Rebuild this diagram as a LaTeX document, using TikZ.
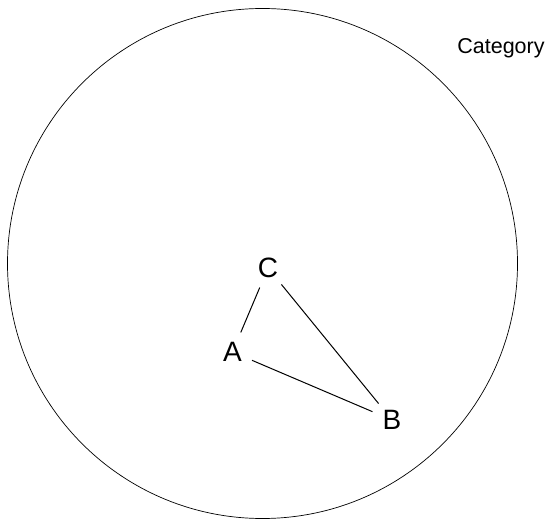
\documentclass[tikz,border=0pt]{standalone}
\usepackage{fontspec}
\setmainfont{Liberation Sans}
\tikzset{
    obj/.style={circle, inner sep=0pt, minimum size=42pt, font=\fontsize{28}{30}\selectfont},
    mor/.style={line width=1pt}
}
\begin{document}
\begin{tikzpicture}[x=1pt, y=-1pt]
    \useasboundingbox (0, 0) rectangle (549, 521);
    % 范畴
    \draw[line width=0.7pt] (262.5, 263.5) circle (255);
    \node[font=\fontsize{21.5}{24}\selectfont] (cat) at (501, 48) {Category};

    % 对象
    \node[obj] (C) at (268, 268) {C};
    \node[obj] (A) at (232.5, 352) {A};
    \node[obj] (B) at (392, 420) {B};

    % 态射
    \draw[mor] (C) -- (A);
    \draw[mor] (C) -- (B);
    \draw[mor] (A) -- (B);
\end{tikzpicture}
\end{document}
